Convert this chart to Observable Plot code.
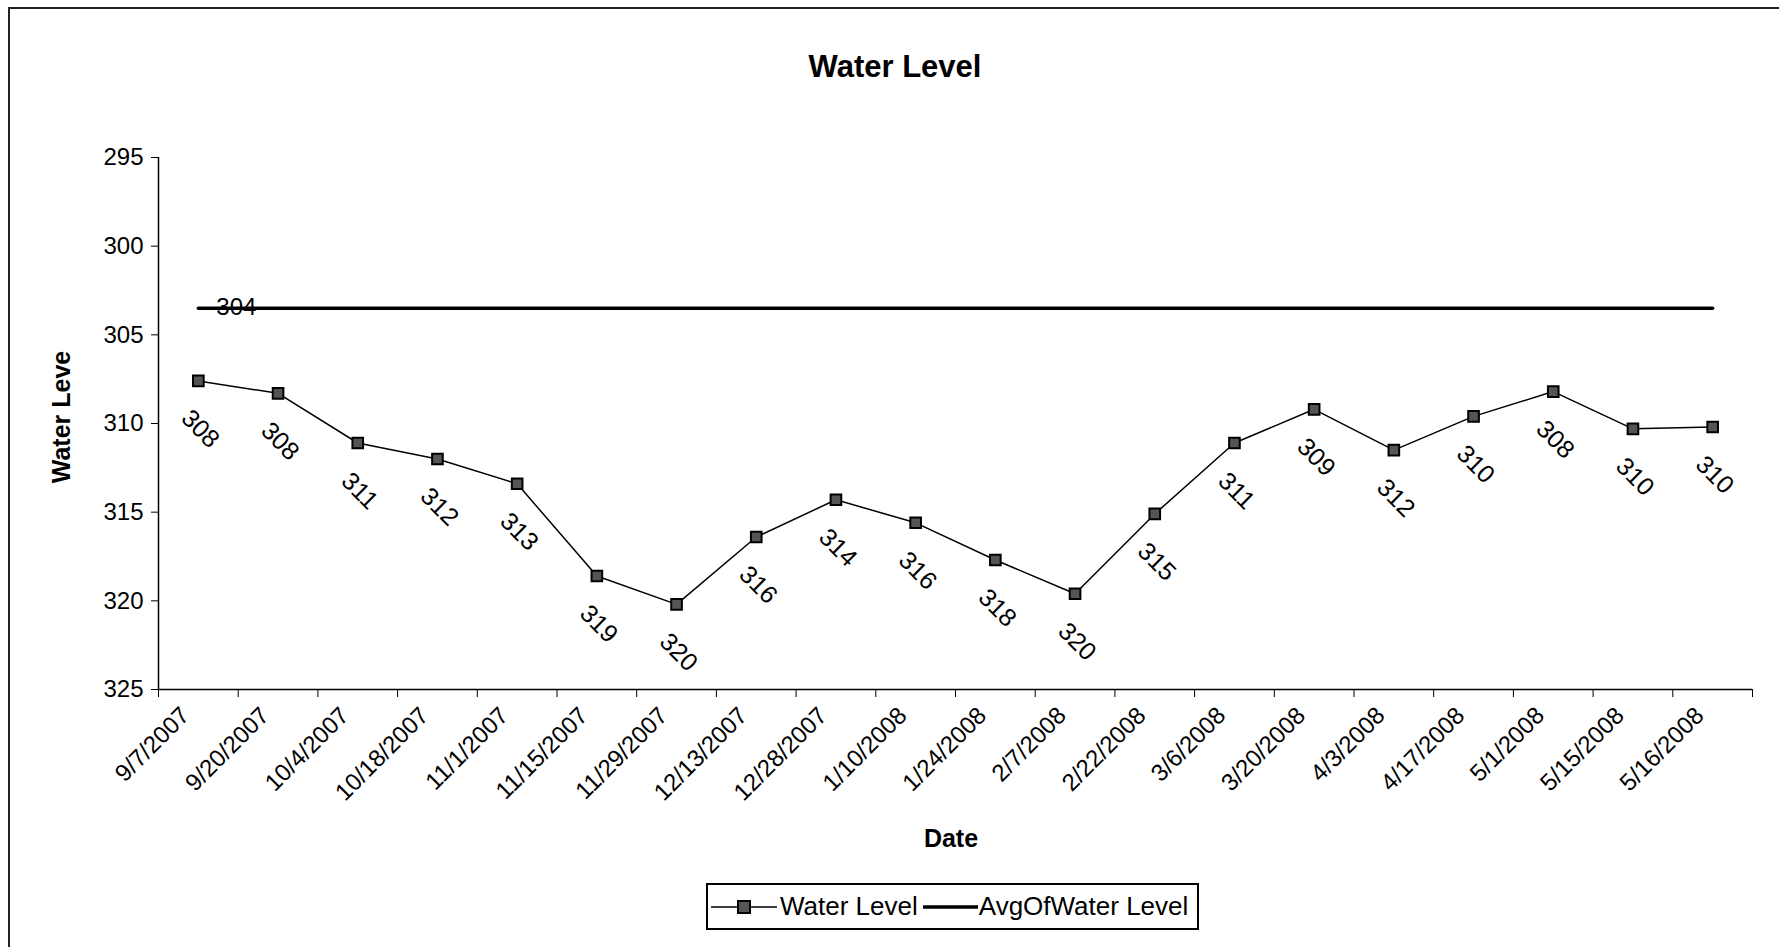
<!DOCTYPE html>
<html>
<head>
<meta charset="utf-8">
<script src="https://cdn.jsdelivr.net/npm/d3@7"></script>
<script src="https://cdn.jsdelivr.net/npm/@observablehq/plot@0.6"></script>
<style>
  html, body { margin: 0; padding: 0; background: #fff; overflow: hidden; }
  body { width: 1779px; height: 947px; position: relative; font-family: "Liberation Sans", Arial, sans-serif; color: #000; }
  #frame { position: absolute; left: 8px; top: 7px; width: 3000px; height: 3000px; border-left: 2px solid #222; border-top: 2px solid #222; pointer-events: none; }
  #chart { position: absolute; left: 0; top: 0; }
  .title { position: absolute; font-weight: bold; line-height: 1; white-space: nowrap; }
  #legend { position: absolute; left: 706px; top: 883px; width: 489px; height: 43px; border: 2px solid #000; display: flex; align-items: center; font-size: 26px; white-space: nowrap; }
  #legend svg { display: block; flex: none; }
</style>
</head>
<body>
<div id="chart"></div>
<div id="frame"></div>
<div class="title" style="left:895px; top:51px; font-size:31px; transform:translateX(-50%);">Water Level</div>
<div class="title" style="left:951px; top:826px; font-size:25px; transform:translateX(-50%);">Date</div>
<div class="title" style="left:61px; top:417px; font-size:25px; transform:translate(-50%,-50%) rotate(-90deg);">Water Leve</div>
<div id="legend">
  <svg width="68" height="30" style="margin-left:1px"><line x1="2" x2="68" y1="15" y2="15" stroke="#000" stroke-width="1.5"/><rect x="29" y="9" width="12" height="12" fill="#555" stroke="#000" stroke-width="2"/></svg>
  <span style="margin-left:3px">Water Level</span>
  <svg width="55" height="30" style="margin-left:5px"><line x1="0" x2="55" y1="15" y2="15" stroke="#000" stroke-width="3.5"/></svg>
  <span style="margin-left:1px">AvgOfWater Level</span>
</div>
<script>
// ---- data ----
const dates = ["9/7/2007","9/20/2007","10/4/2007","10/18/2007","11/1/2007","11/15/2007","11/29/2007","12/13/2007","12/28/2007","1/10/2008","1/24/2008","2/7/2008","2/22/2008","3/6/2008","3/20/2008","4/3/2008","4/17/2008","5/1/2008","5/15/2008","5/16/2008"];
const waterLevel = [307.6, 308.3, 311.1, 312.0, 313.4, 318.6, 320.2, 316.4, 314.3, 315.6, 317.7, 319.6, 315.1, 311.1, 309.2, 311.5, 309.6, 308.2, 310.3, 310.2];
const avgOfWaterLevel = [303.5, 303.5, 303.5, 303.5, 303.5, 303.5, 303.5, 303.5, 303.5, 303.5, 303.5, 303.5, 303.5, 303.5, 303.5, 303.5, 303.5, 303.5, 303.5, 303.5];
const yTicks = [295, 300, 305, 310, 315, 320, 325];

// category i occupies [i, i+1]; points sit at the category centre
const rows = dates.map((d, i) => ({pos: i + 0.5, date: d, level: waterLevel[i], avg: avgOfWaterLevel[i]}));
const centers = rows.map(r => r.pos);
const boundaries = d3.range(dates.length + 1);
const fmt = d3.format(".0f");

const chart = Plot.plot({
  width: 1779,
  height: 947,
  marginLeft: 158,
  marginRight: 27,
  marginTop: 157,
  marginBottom: 258,
  style: {fontFamily: "'Liberation Sans', Arial, sans-serif", fontSize: "24px", color: "#000", background: "#fff", overflow: "visible"},
  x: {type: "linear", domain: [0, dates.length]},
  y: {domain: [295, 325], reverse: true},
  marks: [
    Plot.axisY({ticks: yTicks, tickSize: 7, tickPadding: 8, label: null, fontSize: 24, stroke: "#000"}),
    Plot.axisX({ticks: boundaries, tickSize: 8, tickFormat: () => "", label: null, stroke: "#000"}),
    Plot.axisX({ticks: centers, tickSize: 0, tickPadding: 22, tickFormat: v => dates[Math.floor(v)], rotate: -45, textAnchor: "end", lineAnchor: "middle", dx: -13, label: null, fontSize: 24}),
    Plot.ruleY([325], {stroke: "#000", strokeWidth: 1.5}),
    Plot.ruleX([0], {stroke: "#000", strokeWidth: 1.5}),
    Plot.lineY(rows, {x: "pos", y: "avg", stroke: "#000", strokeWidth: 3.5}),
    Plot.text(rows.slice(0, 1), {x: "pos", y: "avg", text: d => fmt(d.avg), textAnchor: "start", dx: 18, dy: -1, fontSize: 24}),
    Plot.lineY(rows, {x: "pos", y: "level", stroke: "#000", strokeWidth: 1.5}),
    Plot.dot(rows, {x: "pos", y: "level", symbol: "square", r: 6, fill: "#555", stroke: "#000", strokeWidth: 2}),
    Plot.text(rows, {x: "pos", y: "level", text: d => fmt(d.level), rotate: 45, dx: 2, dy: 48, textAnchor: "middle", lineAnchor: "middle", fontSize: 25})
  ]
});
document.getElementById("chart").appendChild(chart);
</script>
</body>
</html>
